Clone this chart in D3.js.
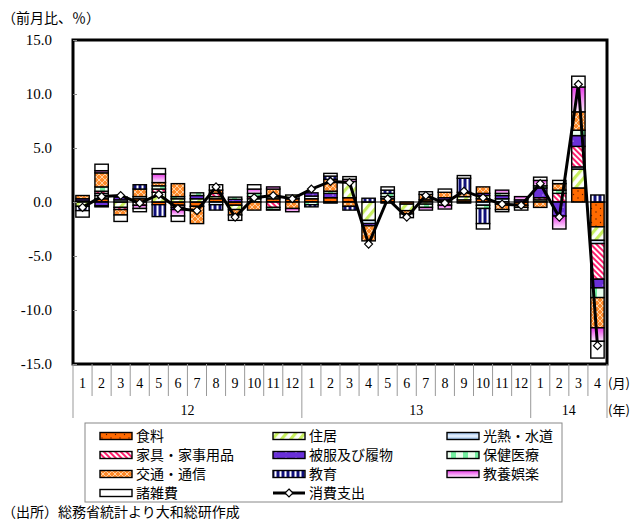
<!DOCTYPE html>
<html>
<head>
<meta charset="utf-8">
<script src="https://cdn.jsdelivr.net/npm/d3@7"></script>
<style>
  body { margin: 0; background: #fff; }
  svg { display: block; }
</style>
</head>
<body>
<div id="chart"></div>
<script>
// 2012-01 .. 2014-04, contributions to month-on-month change (%pt)
const months = ["1","2","3","4","5","6","7","8","9","10","11","12",
                "1","2","3","4","5","6","7","8","9","10","11","12",
                "1","2","3","4"]
const years = [
  { label: "12", start: 0, end: 12 },
  { label: "13", start: 12, end: 24 },
  { label: "14", start: 24, end: 28 }
]

const food      = [0.1,0.3,0,0.3,-0.25,-0.3,-0.4,0.3,-0.3,0,0.3,0.3, 0.3,0.4,0.4,0,0.3,-0.2,0.2,0.2,0.2,0.3,0,-0.3, 0,0,1.3,-2.3]
const housing   = [-0.4,0.3,-0.5,0,0.9,0.3,0.3,0.2,-0.4,0.3,0.2,0.35, 0,0,1.5,-1.7,0,-0.6,-0.2,0,0.3,0.3,0,0, 0.2,0,1.75,-1.25]
const utility   = [0,0.2,0.2,0.2,0,0,0,-0.25,0,0,0,0, 0.25,-0.1,0,-0.3,0.2,0,0,0,0,-0.3,0.3,0, 0,0,0.2,-0.3]
const furniture = [0,0.2,-0.2,-0.3,0.3,-0.2,0,0.3,0,0.2,-0.5,0, 0,0,0,0,0,0,0,-0.3,0,0,-0.2,0, 0.2,0.8,1.9,-3.3]
const clothing  = [0.2,-0.35,0.25,0,0,-0.2,0.3,0,0.25,0,0,0, 0.3,0.4,0,-0.2,0,0,0,0.2,0,0.2,0.3,0.2, 0.9,-1.3,1.0,-0.8]
const health    = [0,0.4,0,0,0.3,0.2,0.25,0,0.2,0.3,-0.2,0, -0.25,0.2,0,0,0.3,0,-0.3,0,-0.1,-0.3,0.2,0, 0.2,0.3,0.5,-0.9]
const transport = [0.3,1.3,-0.5,0.7,0.3,1.2,-1.6,0.3,-0.5,-0.75,0.7,-0.6, 0,1.1,-0.4,-1.4,-0.1,-0.3,0.5,0.5,0.4,0.6,-0.5,-0.2, -0.5,0.6,1.7,-2.8]
const education = [-0.4,-0.1,0,0.4,-1.1,0,0,-0.5,0,0,0,0, -0.2,0.3,-0.35,0.35,0.3,0,0,0,1.3,-1.4,0,0, 0,0,0,0.65]
const culture   = [0,0.2,0,-0.3,0.8,-0.6,0,0,0,0.4,0.2,-0.3, 0,0,0.2,0,0,0,-0.25,-0.35,0,0,0.3,0.3, 0.5,-1.2,2.3,-1.25]
const misc      = [-0.6,0.6,-0.6,-0.3,0.5,-0.5,0,0.5,-0.5,0.4,-0.05,0, 0,0.25,0.25,0,0.3,-0.35,0.25,0.3,0.25,-0.5,-0.2,-0.25, 0.3,0.3,1.0,-1.55]
const spending  = [-0.5,0.5,0.6,-0.1,0.7,-0.6,-0.8,1.4,-1.4,0.4,0.6,0.3, 1.2,1.9,1.8,-3.9,0.3,-1.4,0.6,-0.1,1.0,0.4,-0.2,-0.3, 1.7,-1.4,10.9,-13.3]

const series = [
  { key: "food",      name: "食料",           values: food,      fill: "url(#p-food)" },
  { key: "housing",   name: "住居",           values: housing,   fill: "url(#p-housing)" },
  { key: "utility",   name: "光熱・水道",     values: utility,   fill: "url(#g-utility)" },
  { key: "furniture", name: "家具・家事用品", values: furniture, fill: "url(#p-furniture)" },
  { key: "clothing",  name: "被服及び履物",   values: clothing,  fill: "url(#p-clothing)" },
  { key: "health",    name: "保健医療",       values: health,    fill: "url(#p-health)" },
  { key: "transport", name: "交通・通信",     values: transport, fill: "url(#p-transport)" },
  { key: "education", name: "教育",           values: education, fill: "url(#p-education)" },
  { key: "culture",   name: "教養娯楽",       values: culture,   fill: "url(#g-culture)" },
  { key: "misc",      name: "諸雑費",         values: misc,      fill: "#ffffff" }
]

const yTicks = [15, 10, 5, 0, -5, -10, -15]

const width = 633, height = 522
const plot = { left: 73, right: 607, top: 40, bottom: 364 }
const JP = "'Noto Sans CJK JP', sans-serif"
const SERIF = "'Liberation Serif', 'DejaVu Serif', serif"

const svg = d3.select("#chart").append("svg")
  .attr("width", width)
  .attr("height", height)

// ---- patterns ----
const defs = svg.append("defs")

const pFood = defs.append("pattern").attr("id", "p-food")
  .attr("patternUnits", "userSpaceOnUse").attr("width", 9).attr("height", 7)
pFood.append("rect").attr("width", 9).attr("height", 7).attr("fill", "#ff6a00")
pFood.append("circle").attr("cx", 2).attr("cy", 2).attr("r", 0.7).attr("fill", "#5a1a00")
pFood.append("circle").attr("cx", 6.5).attr("cy", 5.5).attr("r", 0.7).attr("fill", "#5a1a00")

const pHousing = defs.append("pattern").attr("id", "p-housing")
  .attr("patternUnits", "userSpaceOnUse").attr("width", 7).attr("height", 7)
  .attr("patternTransform", "rotate(40)")
pHousing.append("rect").attr("width", 7).attr("height", 7).attr("fill", "#fff")
pHousing.append("rect").attr("width", 3.2).attr("height", 7).attr("fill", "#c8f060")

const gUtil = defs.append("linearGradient").attr("id", "g-utility")
  .attr("x1", 0).attr("y1", 0).attr("x2", 0).attr("y2", 1)
gUtil.append("stop").attr("offset", "0%").attr("stop-color", "#8cb8e8")
gUtil.append("stop").attr("offset", "50%").attr("stop-color", "#eef5ff")
gUtil.append("stop").attr("offset", "100%").attr("stop-color", "#8cb8e8")

const pFurn = defs.append("pattern").attr("id", "p-furniture")
  .attr("patternUnits", "userSpaceOnUse").attr("width", 4).attr("height", 4)
  .attr("patternTransform", "rotate(-45)")
pFurn.append("rect").attr("width", 4).attr("height", 4).attr("fill", "#fff")
pFurn.append("rect").attr("width", 2).attr("height", 4).attr("fill", "#ff1f6e")

const pCloth = defs.append("pattern").attr("id", "p-clothing")
  .attr("patternUnits", "userSpaceOnUse").attr("width", 10).attr("height", 6)
pCloth.append("rect").attr("width", 10).attr("height", 6).attr("fill", "#6a30d8")
pCloth.append("circle").attr("cx", 3).attr("cy", 3).attr("r", 0.6).attr("fill", "#fff")

const pHealth = defs.append("pattern").attr("id", "p-health")
  .attr("patternUnits", "userSpaceOnUse").attr("width", 12).attr("height", 4)
pHealth.append("rect").attr("width", 12).attr("height", 4).attr("fill", "#e9ffee")
pHealth.append("rect").attr("x", 4).attr("width", 5).attr("height", 4).attr("fill", "#74eea0")

const pTrans = defs.append("pattern").attr("id", "p-transport")
  .attr("patternUnits", "userSpaceOnUse").attr("width", 6).attr("height", 6)
pTrans.append("rect").attr("width", 6).attr("height", 6).attr("fill", "#ff8a2a")
pTrans.append("path").attr("d", "M0,3 L3,0 L6,3 L3,6 Z").attr("fill", "none")
  .attr("stroke", "#ffd9b0").attr("stroke-width", 0.9)

const pEdu = defs.append("pattern").attr("id", "p-education")
  .attr("patternUnits", "userSpaceOnUse").attr("width", 5).attr("height", 5)
pEdu.append("rect").attr("width", 5).attr("height", 5).attr("fill", "#10107a")
pEdu.append("rect").attr("x", 1.5).attr("width", 2).attr("height", 5).attr("fill", "#fff")

const gCult = defs.append("linearGradient").attr("id", "g-culture")
  .attr("x1", 0).attr("y1", 0).attr("x2", 0).attr("y2", 1)
gCult.append("stop").attr("offset", "0%").attr("stop-color", "#e838e8")
gCult.append("stop").attr("offset", "100%").attr("stop-color", "#fff0ff")

// ---- scales ----
const x = d3.scaleBand()
  .domain(d3.range(months.length))
  .range([plot.left, plot.right])
  .paddingInner(0.3)
  .paddingOuter(0.15)

const y = d3.scaleLinear()
  .domain([-15, 15])
  .range([plot.bottom, plot.top])

const table = months.map((m, i) => {
  const row = { i }
  series.forEach(s => { row[s.key] = s.values[i] })
  return row
})

const stacked = d3.stack()
  .keys(series.map(s => s.key))
  .offset(d3.stackOffsetDiverging)(table)

// ---- bars ----
const barG = svg.append("g")
stacked.forEach((layer, k) => {
  barG.append("g")
    .selectAll("rect")
    .data(layer.filter(d => d[1] - d[0] !== 0))
    .join("rect")
    .attr("x", d => x(d.data.i))
    .attr("width", x.bandwidth())
    .attr("y", d => y(Math.max(d[0], d[1])))
    .attr("height", d => Math.abs(y(d[0]) - y(d[1])))
    .attr("fill", series[k].fill)
    .attr("stroke", "#000")
    .attr("stroke-width", 1.4)
})

// zero line
svg.append("line")
  .attr("x1", plot.left).attr("x2", plot.right)
  .attr("y1", y(0)).attr("y2", y(0))
  .attr("stroke", "#000").attr("stroke-width", 1)

// ---- spending line ----
const cx = i => x(i) + x.bandwidth() / 2
svg.append("path")
  .datum(spending)
  .attr("fill", "none")
  .attr("stroke", "#000")
  .attr("stroke-width", 3)
  .attr("d", d3.line().x((d, i) => cx(i)).y(d => y(d)))

svg.append("g")
  .selectAll("path")
  .data(spending)
  .join("path")
  .attr("d", d3.symbol(d3.symbolDiamond2, 40))
  .attr("transform", (d, i) => `translate(${cx(i)},${y(d)})`)
  .attr("fill", "#fff")
  .attr("stroke", "#000")
  .attr("stroke-width", 1.2)

// ---- frame ----
svg.append("rect")
  .attr("x", plot.left).attr("y", plot.top)
  .attr("width", plot.right - plot.left)
  .attr("height", plot.bottom - plot.top)
  .attr("fill", "none")
  .attr("stroke", "#000")
  .attr("stroke-width", 3)

// ---- y axis ----
const yAxis = svg.append("g")
  .attr("transform", `translate(${plot.left},0)`)
  .call(d3.axisRight(y).tickValues(yTicks).tickSize(4).tickFormat(""))
yAxis.select(".domain").remove()
yAxis.selectAll("line").attr("stroke", "#888")

svg.append("g")
  .selectAll("text")
  .data(yTicks)
  .join("text")
  .attr("x", 52)
  .attr("y", d => y(d))
  .attr("dy", "0.35em")
  .attr("text-anchor", "end")
  .attr("font-family", SERIF)
  .attr("font-size", 15)
  .attr("fill", "#000")
  .text(d => d3.format(".1f")(d).replace("−", "-"))

svg.append("text")
  .attr("x", 2).attr("y", 23)
  .attr("font-family", JP)
  .attr("font-size", 14)
  .text("（前月比、％）")

// ---- category table below ----
const step = x.step()
const edge = i => plot.left + (plot.right - plot.left) * i / months.length
const axisG = svg.append("g")
  .attr("stroke", "#999").attr("stroke-width", 1)

axisG.selectAll("line.m")
  .data(d3.range(months.length + 1))
  .join("line")
  .attr("class", "m")
  .attr("x1", d => edge(d)).attr("x2", d => edge(d))
  .attr("y1", plot.bottom)
  .attr("y2", d => (d === 0 || d === 12 || d === 24 || d === 28) ? 418 : 396)

svg.append("g")
  .selectAll("text")
  .data(months)
  .join("text")
  .attr("x", (d, i) => (edge(i) + edge(i + 1)) / 2)
  .attr("y", 383)
  .attr("dy", "0.35em")
  .attr("text-anchor", "middle")
  .attr("font-family", SERIF)
  .attr("font-size", 14)
  .text(d => d)

svg.append("g")
  .selectAll("text")
  .data(years)
  .join("text")
  .attr("x", d => (edge(d.start) + edge(d.end)) / 2)
  .attr("y", 410)
  .attr("dy", "0.35em")
  .attr("text-anchor", "middle")
  .attr("font-family", SERIF)
  .attr("font-size", 14)
  .text(d => d.label)

svg.append("text").attr("x", 608).attr("y", 383).attr("dy", "0.35em")
  .attr("font-family", JP).attr("font-size", 13).text("(月)")
svg.append("text").attr("x", 608).attr("y", 410).attr("dy", "0.35em")
  .attr("font-family", JP).attr("font-size", 13).text("(年)")

// ---- legend ----
svg.append("rect")
  .attr("x", 85).attr("y", 423).attr("width", 477).attr("height", 79)
  .attr("fill", "#fff").attr("stroke", "#888").attr("stroke-width", 1)

const legendItems = series.map(s => ({ name: s.name, fill: s.fill, line: false }))
legendItems.push({ name: "消費支出", line: true })
const colX = [100, 273, 447]
const rowY = [436, 455, 474, 493]

const lg = svg.append("g")
  .selectAll("g")
  .data(legendItems)
  .join("g")
  .attr("transform", (d, i) => `translate(${colX[i % 3]},${rowY[Math.floor(i / 3)]})`)

lg.filter(d => !d.line).append("rect")
  .attr("x", 0).attr("y", -3.5).attr("width", 32).attr("height", 7)
  .attr("fill", d => d.fill)
  .attr("stroke", "#000").attr("stroke-width", 1.4)

const ll = lg.filter(d => d.line)
ll.append("line").attr("x1", 0).attr("x2", 32).attr("y1", 0).attr("y2", 0)
  .attr("stroke", "#000").attr("stroke-width", 3)
ll.append("path").attr("d", d3.symbol(d3.symbolDiamond2, 40))
  .attr("transform", "translate(16,0)")
  .attr("fill", "#fff").attr("stroke", "#000").attr("stroke-width", 1.2)

lg.append("text")
  .attr("x", 36).attr("y", 0).attr("dy", "0.35em")
  .attr("font-family", JP).attr("font-size", 14)
  .text(d => d.name)

svg.append("text")
  .attr("x", 2).attr("y", 517)
  .attr("font-family", JP)
  .attr("font-size", 14)
  .text("（出所）総務省統計より大和総研作成")
</script>
</body>
</html>
